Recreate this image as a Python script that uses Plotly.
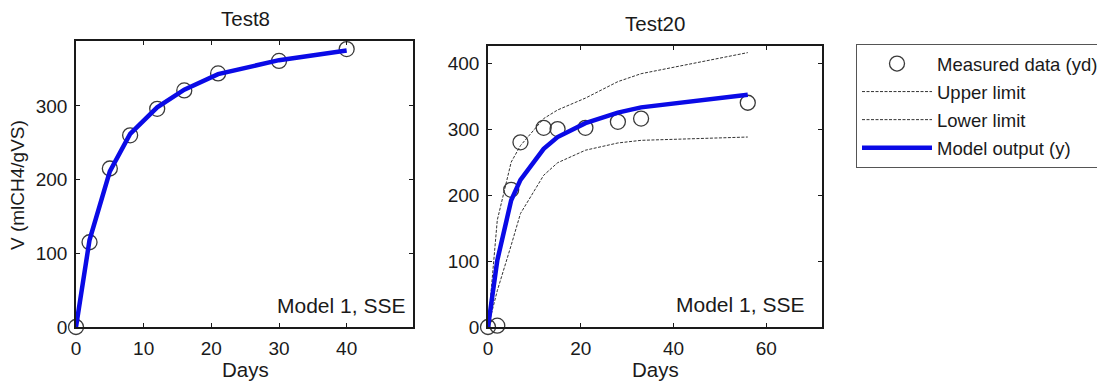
import plotly.graph_objects as go

# ---------------- data ----------------
t8_days = [0, 2, 5, 8, 12, 16, 21, 30, 40]
t8_measured = [0, 115, 215, 260, 296, 321, 344, 361, 377]
t8_model = [0, 118, 211, 262, 298, 322, 343, 362, 375]

t20_days = [0, 2, 5, 7, 12, 15, 21, 28, 33, 56]
t20_measured = [0, 2, 208, 280, 302, 300, 302, 311, 316, 340]
t20_model = [0, 101, 192, 223, 270, 288, 309, 325, 333, 352]
t20_upper = [0, 162, 250, 275, 316, 329, 347, 372, 384, 416]
t20_lower = [0, 55, 124, 172, 230, 249, 268, 279, 283, 288]

x1_ticks = [0, 10, 20, 30, 40]
y1_ticks = [0, 100, 200, 300]
x2_ticks = [0, 20, 40, 60]
y2_ticks = [0, 100, 200, 300, 400]

titles = ["Test8", "Test20"]
ylabel = "V (mlCH4/gVS)"
xlabel = "Days"
note = "Model 1, SSE"
names = ["Measured data (yd)", "Upper limit", "Lower limit", "Model output (y)"]

# ---------------- layout helpers ----------------
# the page body has an 8px margin, so the figure is offset by 8px
OFF = 8
W, H = 1105 - OFF, 385 - OFF
FONT = "Liberation Sans, Arial, sans-serif"

def px(x):
    return (x - OFF) / W

def py(y):
    return 1 - (y - OFF) / H

circle = dict(symbol="circle-open", size=15, color="#3a3a3a", line=dict(width=1.3))
blue = dict(color="#0a0ae6", width=4.5)
dotted = dict(color="#333333", width=1, dash="3px,1.5px")

fig = go.Figure()

# Test8 panel
fig.add_trace(go.Scatter(x=t8_days, y=t8_measured, mode="markers", marker=circle,
                         name=names[0], showlegend=False, cliponaxis=False,
                         xaxis="x", yaxis="y"))
fig.add_trace(go.Scatter(x=t8_days, y=t8_model, mode="lines", line=blue,
                         name=names[3], showlegend=False, cliponaxis=False,
                         xaxis="x", yaxis="y"))

# Test20 panel
fig.add_trace(go.Scatter(x=t20_days, y=t20_measured, mode="markers", marker=circle,
                         name=names[0], legendgroup="a", cliponaxis=False,
                         xaxis="x2", yaxis="y2"))
fig.add_trace(go.Scatter(x=t20_days, y=t20_upper, mode="lines", line=dotted,
                         name=names[1], legendgroup="b", cliponaxis=False,
                         xaxis="x2", yaxis="y2"))
fig.add_trace(go.Scatter(x=t20_days, y=t20_lower, mode="lines", line=dotted,
                         name=names[2], legendgroup="c", cliponaxis=False,
                         xaxis="x2", yaxis="y2"))
fig.add_trace(go.Scatter(x=t20_days, y=t20_model, mode="lines", line=blue,
                         name=names[3], legendgroup="d", cliponaxis=False,
                         xaxis="x2", yaxis="y2"))

axis_common = dict(showline=True, linecolor="#1a1a1a", linewidth=1.5, mirror="ticks",
                   ticks="inside", ticklen=4, tickwidth=1.2, tickcolor="#1a1a1a",
                   showgrid=False, zeroline=False, automargin=False,
                   tickfont=dict(family=FONT, size=19, color="#1a1a1a"),
                   ticklabelstandoff=3, fixedrange=True)

fig.update_layout(
    width=W, height=H,
    margin=dict(l=0, r=0, t=0, b=0),
    paper_bgcolor="white", plot_bgcolor="white",
    font=dict(family=FONT, color="#1a1a1a"),
    xaxis=dict(domain=[px(76), px(413)], range=[0, 49.8], tickvals=x1_ticks,
               anchor="y", **axis_common),
    yaxis=dict(domain=[py(327), py(41)], range=[0, 388], tickvals=y1_ticks,
               anchor="x", **axis_common),
    xaxis2=dict(domain=[px(488), px(822)], range=[0, 72], tickvals=x2_ticks,
                anchor="y2", **axis_common),
    yaxis2=dict(domain=[py(327), py(46)], range=[0, 426], tickvals=y2_ticks,
                anchor="x2", **axis_common),
    legend=dict(x=px(856), y=py(44), xanchor="left", yanchor="top",
                bordercolor="#555555", borderwidth=1, bgcolor="white",
                font=dict(family=FONT, size=18.5, color="#1a1a1a"),
                itemwidth=70, tracegroupgap=1, traceorder="grouped"),
    showlegend=True,
)

ann = []
ann.append(dict(text=titles[0], x=px(245), y=py(18), xref="paper", yref="paper",
                showarrow=False, font=dict(size=20.5), xanchor="center", yanchor="middle"))
ann.append(dict(text=titles[1], x=px(655), y=py(24), xref="paper", yref="paper",
                showarrow=False, font=dict(size=20.5), xanchor="center", yanchor="middle"))
ann.append(dict(text=xlabel, x=px(245), y=py(369), xref="paper", yref="paper",
                showarrow=False, font=dict(size=20.5), xanchor="center", yanchor="middle"))
ann.append(dict(text=xlabel, x=px(655), y=py(369), xref="paper", yref="paper",
                showarrow=False, font=dict(size=20.5), xanchor="center", yanchor="middle"))
ann.append(dict(text=ylabel, x=px(18), y=py(185), xref="paper", yref="paper",
                showarrow=False, font=dict(size=19), textangle=-90,
                xanchor="center", yanchor="middle"))
ann.append(dict(text=note, x=px(407), y=py(305), xref="paper", yref="paper",
                showarrow=False, font=dict(size=21), xanchor="right", yanchor="middle"))
ann.append(dict(text=note, x=px(806), y=py(304), xref="paper", yref="paper",
                showarrow=False, font=dict(size=21), xanchor="right", yanchor="middle"))
fig.update_layout(annotations=ann)

fig.write_html("out.html")
